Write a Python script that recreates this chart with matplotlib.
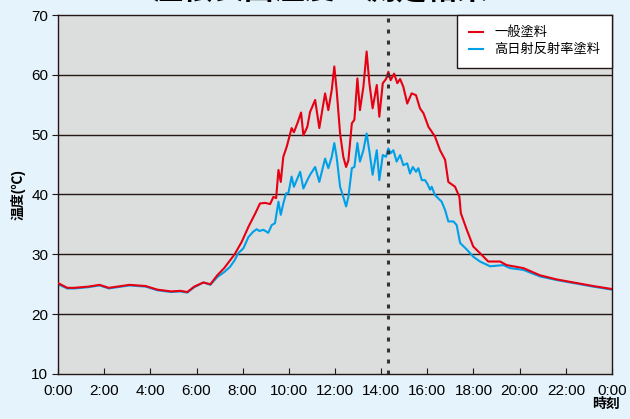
import matplotlib
matplotlib.use("Agg")
import matplotlib.pyplot as plt

plt.rcParams["font.family"] = ["Liberation Sans", "Noto Sans CJK JP", "DejaVu Sans"]

# 一般塗料 (hours, deg C)
red_t = [0.0, 0.4, 0.7, 1.3, 1.8, 2.2, 3.1, 3.8, 4.3, 4.9, 5.3, 5.6, 5.9, 6.3, 6.6,
         6.9, 7.2, 7.65, 7.96, 8.25, 8.54, 8.75, 8.97, 9.19, 9.33, 9.45, 9.55, 9.65,
         9.76, 9.91, 10.12, 10.22, 10.37, 10.53, 10.63, 10.8, 10.92, 11.14, 11.32,
         11.57, 11.71, 11.86, 11.97, 12.07, 12.22, 12.36, 12.48, 12.58, 12.73, 12.84,
         12.97, 13.08, 13.23, 13.37, 13.49, 13.63, 13.81, 13.92, 14.07, 14.21, 14.31,
         14.41, 14.56, 14.7, 14.82, 14.96, 15.13, 15.32, 15.51, 15.68, 15.83, 16.05,
         16.33, 16.55, 16.77, 16.91, 17.2, 17.39, 17.45, 17.71, 17.99, 18.28, 18.64,
         19.15, 19.44, 20.16, 20.88, 21.61, 22.33, 23.19, 24.0]
red_v = [25.2, 24.4, 24.4, 24.6, 24.9, 24.4, 24.9, 24.7, 24.1, 23.8, 23.9, 23.7, 24.6,
         25.3, 25.0, 26.5, 27.7, 30.0, 32.1, 34.6, 36.8, 38.5, 38.6, 38.4, 39.6, 39.4,
         44.1, 42.1, 46.3, 48.0, 51.1, 50.4, 51.9, 53.7, 49.9, 51.3, 53.8, 55.8, 51.1,
         56.9, 54.1, 57.5, 61.4, 57.5, 50.2, 46.3, 44.6, 45.7, 51.9, 52.5, 59.4, 54.1,
         58.0, 63.9, 58.6, 54.4, 58.3, 53.0, 58.6, 59.3, 60.5, 59.1, 60.2, 58.6, 59.3,
         58.0, 55.2, 56.9, 56.6, 54.4, 53.6, 51.3, 49.7, 47.4, 45.8, 42.1, 41.3, 39.6,
         36.9, 34.1, 31.3, 30.2, 28.8, 28.8, 28.2, 27.7, 26.5, 25.8, 25.3, 24.7, 24.2]

# 高日射反射率塗料
blue_t = [0.0, 0.4, 0.7, 1.3, 1.8, 2.2, 3.1, 3.8, 4.3, 4.9, 5.3, 5.6, 5.9, 6.3, 6.6,
          6.9, 7.22, 7.45, 7.65, 7.81, 8.03, 8.25, 8.46, 8.61, 8.72, 8.9, 9.11, 9.26,
          9.4, 9.55, 9.65, 9.76, 9.88, 9.98, 10.12, 10.22, 10.34, 10.49, 10.63, 10.8,
          10.92, 11.14, 11.32, 11.57, 11.71, 11.86, 11.97, 12.07, 12.22, 12.36, 12.48,
          12.58, 12.73, 12.84, 12.97, 13.08, 13.23, 13.37, 13.49, 13.63, 13.81, 13.92,
          14.07, 14.21, 14.31, 14.41, 14.53, 14.67, 14.82, 14.96, 15.13, 15.25, 15.37,
          15.51, 15.61, 15.76, 15.9, 16.0, 16.12, 16.19, 16.33, 16.62, 16.77, 16.91,
          17.13, 17.27, 17.42, 17.71, 17.99, 18.28, 18.72, 19.29, 19.58, 20.16, 20.88,
          21.61, 22.33, 23.19, 24.0]
blue_v = [25.0, 24.3, 24.3, 24.5, 24.8, 24.3, 24.8, 24.6, 24.0, 23.7, 23.8, 23.6, 24.5,
          25.3, 24.9, 26.2, 27.1, 27.9, 29.0, 30.2, 31.0, 32.9, 33.8, 34.2, 33.9, 34.1,
          33.6, 34.9, 35.2, 38.8, 36.6, 38.5, 40.2, 40.2, 43.0, 41.3, 42.4, 43.8, 41.0,
          42.4, 43.3, 44.6, 42.1, 46.0, 44.4, 46.3, 48.6, 46.3, 41.3, 39.6, 38.0, 39.6,
          44.4, 44.6, 48.6, 45.5, 47.4, 50.2, 47.2, 43.3, 47.4, 42.4, 46.6, 46.3, 47.7,
          46.9, 47.4, 45.5, 46.6, 44.9, 45.2, 43.5, 44.6, 43.8, 44.4, 42.4, 42.4, 41.8,
          40.8, 41.3, 39.9, 38.8, 37.4, 35.5, 35.5, 34.9, 31.9, 30.8, 29.6, 28.8, 28.0,
          28.2, 27.7, 27.4, 26.3, 25.7, 25.2, 24.6, 24.1]

x_ticks = list(range(0, 25, 2))
x_labels = ["0:00", "2:00", "4:00", "6:00", "8:00", "10:00", "12:00", "14:00",
            "16:00", "18:00", "20:00", "22:00", "0:00"]
y_ticks = list(range(10, 71, 10))
marker_time = 14.3

dark = "#231815"

fig = plt.figure(figsize=(6.3, 4.19), dpi=100, facecolor="#e5f3fc")
ax = fig.add_axes([0.0921, 0.1074, 0.8793, 0.8568])
ax.set_facecolor("#dcdddd")

for y in y_ticks[1:-1]:
    ax.axhline(y, color=dark, lw=1.0, zorder=1)

ax.plot(red_t, red_v, color="#e60012", lw=1.5, label="一般塗料", zorder=3)
ax.plot(blue_t, blue_v, color="#00a0e9", lw=1.5, label="高日射反射率塗料", zorder=2)
ax.axvline(marker_time, color="#333333", lw=2.2, ls=(0, (1.3, 2.3)), zorder=4)

ax.set_xlim(0, 24)
ax.set_ylim(10, 70)
ax.set_xticks(x_ticks)
ax.set_xticklabels(x_labels)
ax.set_yticks(y_ticks)
ax.tick_params(axis="x", direction="in", length=4, pad=7, labelsize=11, color=dark)
ax.tick_params(axis="y", direction="out", length=4, pad=3, labelsize=11, color=dark)
for s in ax.spines.values():
    s.set_color(dark)
    s.set_linewidth(1.0)

ax.set_ylabel("温度(℃)", fontsize=10, fontweight="bold", labelpad=4)
fig.text(0.962, 0.02, "時刻", fontsize=10, fontweight="bold", ha="center", va="bottom")
# title is clipped by the top edge, as in the original
fig.text(0.508, 1.0 + 10 / 419, "屋根表面温度の測定結果", fontsize=22, fontweight="bold",
         ha="center", va="center")

leg = ax.legend(loc="upper right", bbox_to_anchor=(1, 1), borderaxespad=0,
                fancybox=False, framealpha=1, edgecolor=dark, fontsize=9.5,
                handlelength=1.06, handletextpad=0.83, borderpad=0.9, labelspacing=0.35)
leg.get_frame().set_linewidth(1.0)

fig.savefig("out.png", dpi=100, facecolor=fig.get_facecolor())
